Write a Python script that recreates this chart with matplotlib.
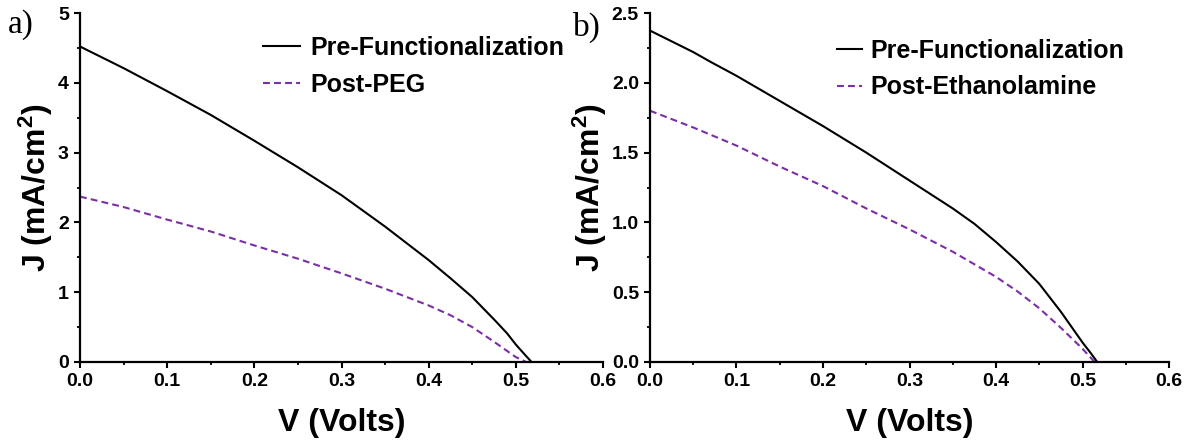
import numpy as np
import matplotlib
matplotlib.use("Agg")
import matplotlib.pyplot as plt
from matplotlib.ticker import MultipleLocator, FormatStrFormatter

plt.rcParams['font.family'] = 'Liberation Sans'
plt.rcParams['font.weight'] = 'bold'
plt.rcParams['mathtext.fontset'] = 'custom'
plt.rcParams['mathtext.rm'] = 'Liberation Sans:bold'
plt.rcParams['mathtext.bf'] = 'Liberation Sans:bold'
plt.rcParams['mathtext.default'] = 'bf'

# panel a) J-V curves
v_a = [0.0, 0.05, 0.1, 0.15, 0.2, 0.25, 0.3, 0.35, 0.4, 0.425, 0.45, 0.475, 0.49, 0.5, 0.51, 0.518]
pre_a = [4.52, 4.21, 3.88, 3.54, 3.17, 2.79, 2.39, 1.94, 1.46, 1.20, 0.93, 0.61, 0.41, 0.25, 0.11, 0.0]
v_peg = [0.0, 0.05, 0.1, 0.15, 0.2, 0.25, 0.3, 0.35, 0.4, 0.425, 0.45, 0.475, 0.5, 0.512]
peg = [2.37, 2.22, 2.04, 1.87, 1.67, 1.48, 1.27, 1.05, 0.81, 0.67, 0.50, 0.29, 0.07, 0.0]

# panel b)
v_b = [0.0, 0.05, 0.07, 0.1, 0.15, 0.2, 0.25, 0.3, 0.35, 0.375, 0.4, 0.425, 0.45, 0.475, 0.5, 0.51, 0.517]
pre_b = [2.374, 2.22, 2.15, 2.05, 1.87, 1.69, 1.50, 1.30, 1.10, 0.99, 0.86, 0.72, 0.56, 0.36, 0.14, 0.06, 0.0]
v_eth = [0.0, 0.05, 0.1, 0.15, 0.2, 0.25, 0.3, 0.35, 0.4, 0.425, 0.45, 0.475, 0.5, 0.514]
eth = [1.80, 1.68, 1.55, 1.40, 1.26, 1.10, 0.95, 0.79, 0.61, 0.505, 0.385, 0.245, 0.095, 0.0]

purple = '#7b2ea6'
W, H = 1190, 443

fig = plt.figure(figsize=(11.9, 4.43), dpi=100)
ax1 = fig.add_axes([80 / W, 1 - 362 / H, 523 / W, 349 / H])
ax2 = fig.add_axes([650 / W, 1 - 362 / H, 519 / W, 349 / H])


def style(ax, ymax, ymaj, ymin, yfmt):
    for s in ['top', 'right']:
        ax.spines[s].set_visible(False)
    for s in ['left', 'bottom']:
        ax.spines[s].set_linewidth(1.6)
    ax.set_xlim(0, 0.6)
    ax.set_ylim(0, ymax)
    ax.xaxis.set_major_locator(MultipleLocator(0.1))
    ax.xaxis.set_minor_locator(MultipleLocator(0.05))
    ax.xaxis.set_major_formatter(FormatStrFormatter('%.1f'))
    ax.yaxis.set_major_locator(MultipleLocator(ymaj))
    ax.yaxis.set_minor_locator(MultipleLocator(ymin))
    ax.yaxis.set_major_formatter(FormatStrFormatter(yfmt))
    ax.tick_params(which='major', direction='out', length=4, width=1.5, labelsize=14, pad=4)
    ax.tick_params(which='minor', direction='out', length=2.5, width=1.3)
    ax.set_xlabel('V (Volts)', fontsize=23, fontweight='bold', labelpad=13)
    ax.set_ylabel('J (mA/cm$^2$)', fontsize=23, fontweight='bold', labelpad=2)


ax1.plot(v_a, pre_a, color='black', lw=1.5, label='Pre-Functionalization')
ax1.plot(v_peg, peg, color=purple, lw=1.5, dashes=(3.3, 2.0), label='Post-PEG')
style(ax1, 5, 1, 0.5, '%d')
ax1.legend(loc='upper left', bbox_to_anchor=(263 / W, 1 - 36 / H), bbox_transform=fig.transFigure,
           frameon=False, fontsize=18, handlelength=1.48, handletextpad=0.4,
           labelspacing=0.5, borderpad=0, borderaxespad=0)

ax2.plot(v_b, pre_b, color='black', lw=1.5, label='Pre-Functionalization')
ax2.plot(v_eth, eth, color=purple, lw=1.5, dashes=(3.3, 2.0), label='Post-Ethanolamine')
style(ax2, 2.5, 0.5, 0.25, '%.1f')
ax2.legend(loc='upper left', bbox_to_anchor=(837 / W, 1 - 39 / H), bbox_transform=fig.transFigure,
           frameon=False, fontsize=18, handlelength=1.0, handletextpad=0.32,
           labelspacing=0.5, borderpad=0, borderaxespad=0)

fig.text(8 / W, 1 - 25 / H, 'a)', family='Liberation Serif', fontweight='normal', fontsize=24, va='center', ha='left')
fig.text(573 / W, 1 - 27 / H, 'b)', family='Liberation Serif', fontweight='normal', fontsize=24, va='center', ha='left')

fig.savefig('out.png', dpi=100)
